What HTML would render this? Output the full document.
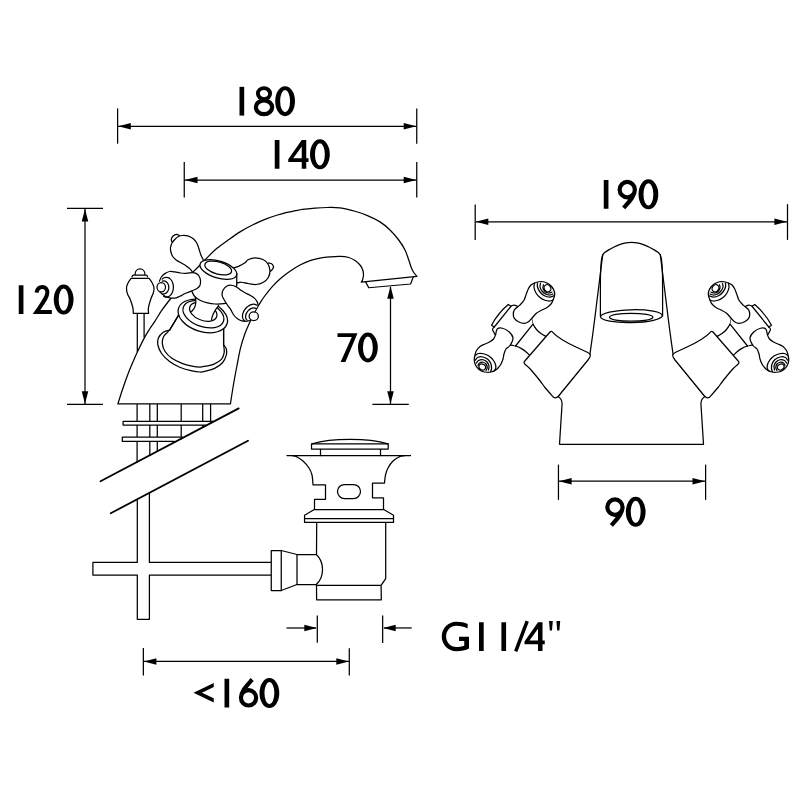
<!DOCTYPE html>
<html><head><meta charset="utf-8"><title>Tap dimensions</title>
<style>
html,body{margin:0;padding:0;background:#fff;}
body{width:800px;height:800px;overflow:hidden;font-family:"Liberation Sans",sans-serif;}
svg{display:block}
.l{fill:none;stroke:#000;stroke-width:1.25;stroke-linecap:round;stroke-linejoin:round}
.w{fill:#fff;stroke:#000;stroke-width:1.25;stroke-linecap:round;stroke-linejoin:round}
.d{fill:none;stroke:#000;stroke-width:1.25;stroke-linecap:butt}
.a{fill:#000;stroke:none}
.g{fill:none;stroke:#000;stroke-width:4.2;stroke-linecap:butt;stroke-linejoin:miter;stroke-miterlimit:10}
.gf{fill:#000;stroke:none;fill-rule:evenodd}
</style></head><body>
<svg width="800" height="800" viewBox="0 0 800 800">
<rect width="800" height="800" fill="#fff"/>
<g id="dims">
<path class="d" d="M117.6 108.4L117.6 143.65"/>
<path class="d" d="M416.75 108.4L416.75 143.65"/>
<path class="d" d="M118 126.3L416.5 126.3"/>
<path class="a" d="M118.2 126.3L130.8 123.05L130.8 129.55Z"/>
<path class="a" d="M416.3 126.3L403.7 129.55L403.7 123.05Z"/>
<path class="d" d="M184.25 162L184.25 197.6"/>
<path class="d" d="M416.75 162L416.75 197.6"/>
<path class="d" d="M184.5 180L416.5 180"/>
<path class="a" d="M184.9 180L197.5 176.75L197.5 183.25Z"/>
<path class="a" d="M416.3 180L403.7 183.25L403.7 176.75Z"/>
<path class="d" d="M67 208.35L103 208.35"/>
<path class="d" d="M67 404.3L103 404.3"/>
<path class="d" d="M85 208.5L85 404"/>
<path class="a" d="M85 208.8L88.25 221.4L81.75 221.4Z"/>
<path class="a" d="M85 403.9L81.75 391.3L88.25 391.3Z"/>
<path class="d" d="M372.4 404.35L408.75 404.35"/>
<path class="d" d="M390.5 287L390.5 404"/>
<path class="a" d="M390.5 286.1L393.75 298.7L387.25 298.7Z"/>
<path class="a" d="M390.5 403.9L387.25 391.3L393.75 391.3Z"/>
<path class="d" d="M475.2 204.5L475.2 240"/>
<path class="d" d="M787.5 204.2L787.5 239.9"/>
<path class="d" d="M475.5 221.8L787.2 221.8"/>
<path class="a" d="M475.7 221.8L488.3 218.55L488.3 225.05Z"/>
<path class="a" d="M787 221.8L774.4 225.05L774.4 218.55Z"/>
<path class="d" d="M558.45 464.6L558.45 499.9"/>
<path class="d" d="M705.6 464.6L705.6 499.9"/>
<path class="d" d="M558.8 481.2L705.3 481.2"/>
<path class="a" d="M559 481.2L571.6 477.95L571.6 484.45Z"/>
<path class="a" d="M705.1 481.2L692.5 484.45L692.5 477.95Z"/>
<path class="d" d="M143.35 648.1L143.35 675.5"/>
<path class="d" d="M349.3 648.2L349.3 675.5"/>
<path class="d" d="M143.6 661.45L349 661.45"/>
<path class="a" d="M143.8 661.45L156.4 658.2L156.4 664.7Z"/>
<path class="a" d="M348.9 661.45L336.3 664.7L336.3 658.2Z"/>
<path class="d" d="M317.3 615.5L317.3 642.8"/>
<path class="d" d="M382.65 615.5L382.65 642.9"/>
<path class="d" d="M286.5 628L316 628"/>
<path class="a" d="M316.9 628L304.3 631.25L304.3 624.75Z"/>
<path class="d" d="M384 627.95L411.75 627.95"/>
<path class="a" d="M383.1 627.95L395.7 624.7L395.7 631.2Z"/>
</g>
<g id="side">
<path class="l" d="M137.1 404L137.1 462M149.8 404L149.8 455.4M157.3 404L157.3 451.4M181.2 404L181.2 438.9M202.7 404L202.7 427.6M210.6 404L210.6 423.4"/>
<path d="M213.3 421.25L123.1 421.25L123.1 425.1L206 425.1Z" fill="#fff" stroke="none"/>
<path class="l" d="M213.3 421.25L123.1 421.25L123.1 425.1L206 425.1"/>
<path d="M182.6 437L122.3 437L122.3 441.4L174.2 441.4Z" fill="#fff" stroke="none"/>
<path class="l" d="M182.6 437L122.3 437L122.3 441.4L174.2 441.4"/>
<path class="l" d="M100.5 481.25L238.7 408.4" style="stroke-width:1.8"/>
<path class="l" d="M110.75 513.25L248 440.75" style="stroke-width:1.8"/>
<path class="l" d="M137.3 499.4L137.3 562.4L92.9 562.4L92.9 575L137.3 575L137.3 619.25L149.4 619.25L149.4 575L271.25 575M271.25 562.4L149.4 562.4L149.4 493"/>
<path class="w" d="M117.9 403.9C118.65 401.54 120.72 394.73 122.4 389.75C124.08 384.77 126.13 378.88 128 374C129.87 369.12 132 364.25 133.6 360.5C135.2 356.75 135.72 355.43 137.6 351.5C139.48 347.57 142.83 340.73 144.9 336.9C146.97 333.07 148.32 331.13 150 328.5C151.68 325.87 153.02 324.15 155 321.1C156.98 318.05 159.3 313.93 161.9 310.2C164.5 306.47 167.25 302.95 170.6 298.75C173.95 294.55 178.27 289.38 182 285C185.73 280.62 189.25 276.58 193 272.5C196.75 268.42 200.83 264.25 204.5 260.5C208.17 256.75 211.25 253.25 215 250C218.75 246.75 222.83 244.02 227 241C231.17 237.98 235.75 234.57 240 231.9C244.25 229.23 248.33 227.08 252.5 225C256.67 222.92 260.83 221.07 265 219.4C269.17 217.73 273.33 216.25 277.5 215C281.67 213.75 285.83 212.83 290 211.9C294.17 210.97 298.33 210.03 302.5 209.4C306.67 208.77 310.83 208.42 315 208.1C319.17 207.78 323.33 207.53 327.5 207.5C331.67 207.47 335.42 207.28 340 207.9C344.58 208.53 350.42 209.97 355 211.25C359.58 212.53 363.33 213.82 367.5 215.6C371.67 217.38 376.25 219.5 380 221.9C383.75 224.3 386.88 226.98 390 230C393.12 233.02 396.25 236.67 398.75 240C401.25 243.33 403.33 246.67 405 250C406.67 253.33 407.71 257.08 408.75 260C409.79 262.92 410.42 265.42 411.25 267.5C412.08 269.58 412.81 271.02 413.75 272.5C414.69 273.98 416.38 275.75 416.9 276.4L361.25 282.1C361.46 281.75 362.12 281.18 362.5 280C362.88 278.82 363.46 276.67 363.5 275C363.54 273.33 363.33 271.67 362.75 270C362.17 268.33 361.29 266.57 360 265C358.71 263.43 356.88 261.85 355 260.6C353.12 259.35 351.25 258.2 348.75 257.5C346.25 256.8 343.12 256.5 340 256.4C336.88 256.3 333.33 256.62 330 256.9C326.67 257.18 323.33 257.48 320 258.1C316.67 258.72 313.33 259.45 310 260.6C306.67 261.75 303.33 263.23 300 265C296.67 266.77 293.2 269 290 271.2C286.8 273.4 283.75 275.63 280.8 278.2C277.85 280.77 275.1 283.47 272.3 286.6C269.5 289.73 266.05 294.25 264 297C261.95 299.75 260.98 301.56 260 303.1C259.02 304.64 259.1 304.52 258.1 306.25C257.1 307.98 255.34 310.93 254 313.5C252.66 316.07 251.56 318.37 250.06 321.7C248.56 325.03 246.59 329.1 245 333.5C243.41 337.9 241.82 342.85 240.5 348.1C239.18 353.35 238.22 359.18 237.1 365C235.97 370.82 234.87 376.52 233.75 383C232.63 389.48 230.96 400.42 230.4 403.9Z"/>
<path class="l" d="M413.1 277.4L410.6 284L368.75 287.75L365.6 281.9"/>
<path class="l" d="M137.3 313.25L137.3 351.5M144.1 313.25L144.1 337"/>
<path class="w" d="M131.25 278.25C130.71 279.04 128.79 281.38 128 283C127.21 284.62 126.58 286.17 126.5 288C126.42 289.83 126.9 292.17 127.5 294C128.1 295.83 129.2 296.67 130.1 299C131 301.33 132.38 305.62 132.9 308C133.43 310.38 133.19 312.38 133.25 313.25L148.6 313.25C148.57 312.38 148 310.46 148.4 308C148.8 305.54 150.18 301 151 298.5C151.82 296 152.8 294.75 153.3 293C153.8 291.25 154.18 289.67 154 288C153.82 286.33 153.08 284.62 152.25 283C151.42 281.38 149.54 279.04 149 278.25Z"/>
<path class="l" d="M135 274.9C135 267 145 267 145 274.9M132 276.9C132.3 275.6 132.8 275.1 133.6 275.1L146 275.1C146.8 275.1 147.3 275.6 147.6 276.9"/>
</g>
<g id="waste">
<path class="w" d="M271.25 550.5L281.25 550.5L281.25 590.5L271.25 590.5Z"/>
<path class="l" d="M281.25 550.5L297 554.5L297 584.5L281.25 590.5"/>
<path class="l" d="M297 554.5L316.25 554.5C324.6 562 324.6 577 316.25 584.5L297 584.5"/>
<path class="l" d="M316.7 522.6L316.5 554.5M316.5 584.5L316.6 599.8L381.3 599.8L381.1 585.3L385.7 578.6L385.7 522.6M316.5 585.3L381.1 585.3"/>
<path class="w" d="M314.3 509.5L304.55 515.25L304.55 522.45L393.5 522.45L393.5 515.25L383.75 509.5ZM304.55 518.5L393.5 518.5"/>
<path class="l" d="M287 455.5L410.5 455.5M287 455.5C287.75 455.53 290 455.53 291.5 455.7C293 455.87 294.08 455.62 296 456.5C297.92 457.38 300.83 459.08 303 461C305.17 462.92 307.5 465.67 309 468C310.5 470.33 311.33 472.2 312 475C312.67 477.8 312.83 483.17 313 484.8L325.5 484.8L325.5 499.3L314.5 499.3L314.5 509.4M410.5 455.5C409.67 455.53 407.25 455.53 405.5 455.7C403.75 455.87 402.08 455.62 400 456.5C397.92 457.38 395 459.08 393 461C391 462.92 389.25 465.67 388 468C386.75 470.33 386.08 472.5 385.5 475C384.92 477.5 384.67 481.67 384.5 483L372.5 483L372.5 497.8L383.5 497.8L383.5 509.4"/>
<rect class="l" x="337.5" y="484.5" width="23" height="14" rx="7" ry="7"/>
<path class="l" d="M311.5 443.8L311.5 449.1L388.2 449.1L388.2 443.8ZM320.5 449.1L320.5 455.5M380.5 449.1L380.5 455.5"/>
<path class="l" d="M312 443.8C332 438 368 438 388 443.8"/>
</g>
<g id="handle">
<path class="w" d="M169.6 330.1C168.48 330.48 164.77 331.08 162.9 332.4C161.03 333.72 159.25 335.94 158.4 338C157.55 340.06 157.24 342.12 157.8 344.75C158.36 347.38 159.78 350.94 161.75 353.75C163.72 356.56 166.6 359.35 169.6 361.6C172.6 363.85 176.18 365.75 179.75 367.25C183.32 368.75 187.62 369.81 191 370.6C194.38 371.39 197.57 371.9 200 372C202.43 372.1 203.17 371.8 205.6 371.2C208.03 370.6 211.78 369.81 214.6 368.4C217.42 366.99 220.53 365 222.5 362.75C224.47 360.5 225.75 357.15 226.4 354.9C227.05 352.65 226.77 350.85 226.4 349.25C226.03 347.65 224.57 345.96 224.2 345.3L223.6 345.3L223.6 328.75L178.3 315.6Z"/>
<path class="l" d="M168.6 330.6C168.4 330.9 168.27 331.35 167.4 332.4C166.53 333.45 164.25 335.03 163.4 336.9C162.55 338.77 162.02 341.17 162.3 343.6C162.58 346.03 163.5 349.06 165.1 351.5C166.7 353.94 169.08 356.28 171.9 358.25C174.72 360.22 178.63 361.99 182 363.3C185.37 364.61 189.1 365.48 192.1 366.1C195.1 366.72 197.75 367 200 367C202.25 367 203.35 366.53 205.6 366.1C207.85 365.67 210.87 365.52 213.5 364.4C216.13 363.28 219.62 361.37 221.4 359.4C223.18 357.43 223.8 354.83 224.2 352.6C224.6 350.37 223.87 347.1 223.8 346"/>
<path class="l" d="M178.3 315.6L169.6 330.1M223.6 328.75L223.6 345.3"/>
<ellipse class="w" cx="202.8" cy="316" rx="25.5" ry="15.6" transform="rotate(17.7 202.8 316)"/>
<ellipse class="l" cx="203.4" cy="314.2" rx="21.3" ry="12.4" transform="rotate(19.9 203.4 314.2)"/>
<ellipse class="w" cx="203.25" cy="311.9" rx="14.3" ry="8.4" transform="rotate(21 203.25 311.9)"/>
<path d="M195.4 297L195.8 302.5L194.5 307.75L191.4 311.7L196 317L203 319.8L211.4 319.8L212 317.4L214.6 311.25L218.6 305.6L222 303Z" fill="#fff" stroke="none"/>
<path class="l" d="M195.4 297.25C195.47 298.12 195.95 300.75 195.8 302.5C195.65 304.25 195.23 306.22 194.5 307.75C193.77 309.28 191.92 311.04 191.4 311.7"/>
<path class="l" d="M218.6 305.6C217.93 306.54 215.7 309.28 214.6 311.25C213.5 313.22 212.5 315.94 212 317.4C211.5 318.86 211.67 319.57 211.6 320"/>
<path class="w" d="M268.3 263.2C272 262.5 274.5 266 273 268.5C272 270.5 271 271 270 271.3"/>
<path class="w" d="M233.5 267.8C234.42 267.52 237.08 266.94 239 266.1C240.92 265.26 243.5 263.8 245 262.75C246.5 261.7 246.33 260.62 248 259.8C249.67 258.98 252.5 257.85 255 257.8C257.5 257.75 260.83 258.47 263 259.5C265.17 260.53 266.83 262.08 268 264C269.17 265.92 270 268.67 270 271C270 273.33 269.17 276.08 268 278C266.83 279.92 265 281.42 263 282.5C261 283.58 258.5 284.33 256 284.5C253.5 284.67 250.46 283.88 248 283.5C245.54 283.12 243.07 282.33 241.25 282.25C239.43 282.17 237.79 282.88 237.1 283L233 275Z"/>
<path class="w" d="M179.9 235.9C179.33 235.63 177.67 234.25 176.5 234.3C175.33 234.35 173.77 235.38 172.9 236.2C172.03 237.02 171.45 238.3 171.3 239.25C171.15 240.2 171.88 241.46 172 241.9"/>
<path class="w" d="M203.5 260.25C203.07 259.38 201.65 256.88 200.9 255C200.15 253.12 199.69 251 199 249C198.31 247 197.75 244.75 196.75 243C195.75 241.25 194.5 239.68 193 238.5C191.5 237.32 189.5 236.4 187.75 235.9C186 235.4 184 235.44 182.5 235.5C181 235.56 180 235.62 178.75 236.25C177.5 236.88 176.12 238.12 175 239.25C173.88 240.38 172.75 241.62 172 243C171.25 244.38 170.68 246 170.5 247.5C170.32 249 170.53 250.5 170.9 252C171.28 253.5 171.82 255.12 172.75 256.5C173.68 257.88 175 259.12 176.5 260.25C178 261.38 180.12 262.31 181.75 263.25C183.38 264.19 184.88 264.96 186.25 265.9C187.62 266.84 188.94 267.84 190 268.9C191.06 269.96 192.17 271.69 192.6 272.25"/>
<path class="w" d="M203.5 261.8L192.5 272.5L192.1 292C192.54 292.75 193.43 295.12 194.75 296.5C196.07 297.88 197.88 299.18 200 300.25C202.12 301.32 205 302.27 207.5 302.9C210 303.52 212.25 303.88 215 304C217.75 304.12 221.5 303.93 224 303.6C226.5 303.27 229 302.27 230 302L236.75 285.25L236.75 273.25Z"/>
<ellipse class="w" cx="218.4" cy="269.5" rx="19.1" ry="8.5" transform="rotate(17.2 218.4 269.5)"/>
<ellipse class="l" cx="218.2" cy="268" rx="13.8" ry="6.1" transform="rotate(15.8 218.2 268)"/>
<path class="w" d="M159.4 281.25C159.75 280.5 160.53 278.06 161.5 276.75C162.47 275.44 163.88 274.27 165.25 273.4C166.62 272.52 168.12 271.75 169.75 271.5C171.38 271.25 173.25 271.65 175 271.9C176.75 272.15 178.38 272.75 180.25 273C182.12 273.25 184.19 273.47 186.25 273.4C188.31 273.33 190.97 272.6 192.6 272.6C194.22 272.6 194.93 272.83 196 273.4C197.07 273.97 198.25 274.82 199 276C199.75 277.18 200.33 278.96 200.5 280.5C200.67 282.04 200.58 283.9 200 285.25C199.42 286.6 198.38 287.66 197 288.6C195.62 289.54 193.75 290.08 191.75 290.9C189.75 291.72 186.75 292.72 185 293.5C183.25 294.28 182.71 294.88 181.25 295.6C179.79 296.32 177.92 297.38 176.25 297.8C174.58 298.22 172.92 298.25 171.25 298.1C169.58 297.95 167.71 297.52 166.25 296.9C164.79 296.28 163.54 295.23 162.5 294.4C161.46 293.57 160.42 292.32 160 291.9"/>
<path class="l" d="M162.23 279.09C162.54 278.87 163.44 278.09 164.1 277.79C164.75 277.49 165.47 277.32 166.16 277.3C166.85 277.28 167.57 277.41 168.23 277.67C168.89 277.93 169.56 278.35 170.14 278.87C170.72 279.39 171.26 280.06 171.71 280.79C172.16 281.52 172.54 282.38 172.81 283.26C173.09 284.15 173.28 285.12 173.35 286.08C173.43 287.03 173.41 288.05 173.28 288.99C173.16 289.94 172.92 290.9 172.61 291.75C172.29 292.6 171.86 293.42 171.38 294.11C170.9 294.8 170.32 295.41 169.72 295.88C169.11 296.34 168.43 296.69 167.76 296.89C167.08 297.09 166.36 297.15 165.67 297.06C164.99 296.98 163.98 296.49 163.64 296.38"/>
<path class="l" d="M162.25 281.12C162.47 281.08 163.13 280.9 163.57 280.9C164.01 280.9 164.46 280.97 164.88 281.1C165.31 281.24 165.73 281.45 166.12 281.71C166.5 281.98 166.87 282.31 167.18 282.69C167.5 283.07 167.79 283.51 168.02 283.98C168.25 284.44 168.44 284.96 168.57 285.48C168.7 286.01 168.78 286.57 168.8 287.12C168.81 287.66 168.78 288.23 168.68 288.77C168.59 289.3 168.44 289.84 168.24 290.33C168.04 290.82 167.79 291.29 167.5 291.7C167.21 292.11 166.87 292.49 166.5 292.79C166.14 293.1 165.73 293.35 165.32 293.54C164.9 293.72 164.46 293.83 164.02 293.88C163.58 293.92 162.92 293.81 162.7 293.8"/>
<ellipse class="w" cx="161.25" cy="287.2" rx="4.25" ry="4.7"/>
<path class="w" d="M258.1 305C257.95 304.48 257.82 303.05 257.2 301.9C256.58 300.75 255.6 299.2 254.4 298.1C253.2 297 251.57 296.19 250 295.3C248.43 294.41 246.46 293.55 245 292.75C243.54 291.95 242.75 291.5 241.25 290.5C239.75 289.5 237.62 287.62 236 286.75C234.38 285.88 233 285.38 231.5 285.25C230 285.12 228.38 285.25 227 286C225.62 286.75 224.07 288.25 223.25 289.75C222.43 291.25 221.97 293.38 222.1 295C222.22 296.62 223.06 297.75 224 299.5C224.94 301.25 226.65 303.85 227.75 305.5C228.85 307.15 229.6 307.82 230.6 309.4C231.6 310.98 232.6 313.44 233.75 315C234.9 316.56 236.14 317.77 237.5 318.75C238.86 319.73 240.44 320.48 241.9 320.9C243.36 321.32 245 321.3 246.25 321.25C247.5 321.2 248.88 320.71 249.4 320.6"/>
<path class="l" d="M256.96 305.32C256.74 305.19 256.13 304.73 255.64 304.55C255.15 304.36 254.61 304.25 254.05 304.22C253.49 304.19 252.88 304.23 252.27 304.35C251.67 304.47 251.03 304.67 250.41 304.94C249.79 305.2 249.16 305.55 248.56 305.95C247.96 306.34 247.36 306.81 246.82 307.32C246.27 307.83 245.74 308.4 245.27 308.99C244.8 309.58 244.37 310.23 244.01 310.87C243.65 311.51 243.33 312.19 243.1 312.86C242.86 313.52 242.68 314.2 242.58 314.84C242.48 315.49 242.45 316.13 242.49 316.73C242.53 317.32 242.65 317.9 242.83 318.41C243.01 318.92 243.27 319.4 243.58 319.8C243.89 320.2 244.51 320.65 244.7 320.82"/>
<path class="l" d="M255.96 308.42C255.78 308.36 255.26 308.11 254.88 308.02C254.5 307.94 254.08 307.91 253.66 307.92C253.24 307.94 252.8 308.01 252.36 308.12C251.92 308.24 251.47 308.41 251.03 308.62C250.6 308.83 250.16 309.09 249.74 309.38C249.33 309.67 248.92 310.01 248.54 310.38C248.17 310.74 247.81 311.14 247.49 311.56C247.18 311.98 246.89 312.43 246.64 312.88C246.4 313.33 246.19 313.81 246.03 314.28C245.87 314.74 245.75 315.22 245.68 315.68C245.61 316.14 245.58 316.6 245.6 317.03C245.63 317.46 245.7 317.88 245.82 318.27C245.93 318.65 246.1 319.01 246.3 319.33C246.51 319.64 246.92 320.03 247.04 320.17"/>
<ellipse class="w" cx="253.75" cy="316.25" rx="4.6" ry="4.3"/>
</g>
<g id="front">
<path class="w" d="M602.8 254.6C602.7 255.29 602.53 256.18 602.2 258.75C601.87 261.32 601.29 266.04 600.8 270C600.31 273.96 600 276.46 599.25 282.5C598.5 288.54 597.29 298.33 596.3 306.25C595.31 314.17 594.35 322.08 593.3 330C592.25 337.92 590.55 349.79 590 353.75L588.4 359.4L558 396.5C561.5 398.5 562.3 402 562 405L559.5 444.25L703.5 444.25L701 405C700.7 402 701.5 398.5 705 396.5L674.6 359.4L673 353.75C672.45 349.79 670.75 337.92 669.7 330C668.65 322.08 667.69 314.17 666.7 306.25C665.71 298.33 664.5 288.54 663.75 282.5C663 276.46 662.69 273.96 662.2 270C661.71 266.04 661.13 261.32 660.8 258.75C660.47 256.18 660.3 255.29 660.2 254.6C659.83 254.22 658.99 253.09 658 252.3C657.01 251.51 655.67 250.7 654.25 249.85C652.83 249 651.08 247.99 649.5 247.2C647.92 246.41 646.58 245.77 644.75 245.1C642.92 244.43 640.71 243.65 638.5 243.2C636.29 242.75 633.83 242.4 631.5 242.4C629.17 242.4 626.71 242.75 624.5 243.2C622.29 243.65 620.08 244.43 618.25 245.1C616.42 245.77 615.08 246.41 613.5 247.2C611.92 247.99 610.17 249 608.75 249.85C607.33 250.7 605.99 251.51 605 252.3C604.01 253.09 603.17 254.22 602.8 254.6Z"/>
<path class="l" d="M602.8 254.6C602.6 255.33 601.9 257.32 601.6 259C601.3 260.68 601.18 262.03 601 264.7C600.82 267.37 600.6 270.78 600.5 275C600.4 279.22 600.42 283.17 600.4 290C600.38 296.83 600.4 311.67 600.4 316M660.2 254.6C660.4 255.33 661.1 257.32 661.4 259C661.7 260.68 661.82 262.03 662 264.7C662.18 267.37 662.4 270.78 662.5 275C662.6 279.22 662.58 283.17 662.6 290C662.62 296.83 662.6 311.67 662.6 316"/>
<ellipse class="l" cx="631.4" cy="316.2" rx="30.9" ry="6.45" transform="rotate(-1.2 631.4 316.2)"/>
<ellipse class="l" cx="631.2" cy="317.25" rx="21.7" ry="3.95"/>
<g><path d="M531.6 318.6C531.79 319.42 531.93 321.68 532.75 323.5C533.57 325.32 535.12 327.82 536.5 329.5C537.88 331.18 539.43 332.45 541 333.6C542.57 334.75 545.08 335.93 545.9 336.4L530.1 355.75C529.54 355.19 528.18 353.59 526.75 352.4C525.32 351.21 523.38 349.67 521.5 348.6C519.62 347.53 517.5 346.58 515.5 346C513.5 345.42 510.5 345.25 509.5 345.1Z" fill="#fff" stroke="none"/>
<path class="l" d="M531.6 318.6C531.79 319.42 531.93 321.68 532.75 323.5C533.57 325.32 535.12 327.82 536.5 329.5C537.88 331.18 539.43 332.45 541 333.6C542.57 334.75 545.08 335.93 545.9 336.4M530.1 355.75C529.54 355.19 528.18 353.59 526.75 352.4C525.32 351.21 523.38 349.67 521.5 348.6C519.62 347.53 517.5 346.58 515.5 346C513.5 345.42 510.5 345.25 509.5 345.1"/>
<path class="w" d="M552 331.6C556 336 563 341 576 347L587.3 352.2C590 353.5 590.9 355 589.9 357L588.4 359.4L558.6 395.8C556.8 398 555 398.3 553.5 397.3C552.08 395.67 547.25 390.26 545 387.5C542.75 384.74 542.5 383.88 540 380.75C537.5 377.62 532.5 371.51 530 368.75C527.5 365.99 525.83 364.96 525 364.2C523.7 363 523.8 362 524.8 361L550 332C550.7 331.2 551.4 331.1 552 331.6Z"/>
<path d="M518 306.75L511 306.25L494.25 327L492.5 328.5L495 334.5L515.5 346L532.75 324.2L531.6 318.6Z" fill="#fff" stroke="none"/>
<path class="w" d="M491.5 325.25Q497.9 313.25 508.25 304.5L511 306.25L494.25 327Z"/>
<path class="l" d="M511 306.25C511.6 305.4 512.6 305 514 305C515.6 305 517 305.8 518.5 307M494.25 327C492.8 328 492.3 328.8 492.6 330L495 334.5M532.75 324.4L515.5 346"/>
<path class="w" d="M513.3 314.4C513.3 313 513.37 311.4 514.4 309.9C515.43 308.4 517.9 307 519.5 305.4C521.1 303.8 522.88 302.18 524 300.3C525.12 298.42 525.5 296.07 526.25 294.1C527 292.13 527.71 290.02 528.5 288.5C529.29 286.98 530 285.92 531 285C532 284.08 533.17 283.54 534.5 283C535.83 282.46 537.5 281.96 539 281.75C540.5 281.54 542 281.46 543.5 281.75C545 282.04 546.58 282.62 548 283.5C549.42 284.38 550.92 285.58 552 287C553.08 288.42 554.08 290.5 554.5 292C554.92 293.5 554.75 294.67 554.5 296C554.25 297.33 553.58 298.67 553 300C552.42 301.33 552 302.75 551 304C550 305.25 548.5 306.5 547 307.5C545.5 308.5 543.77 309.04 542 310C540.23 310.96 538.08 311.87 536.4 313.25C534.72 314.63 533.22 316.89 531.9 318.3C530.58 319.71 529.82 320.85 528.5 321.7C527.18 322.55 525.68 323.4 524 323.4C522.32 323.4 520 322.55 518.4 321.7C516.8 320.85 515.25 319.52 514.4 318.3C513.55 317.08 513.3 315.8 513.3 314.4Z"/>
<path class="l" d="M534.5 283.25C534.42 283.96 533.75 285.88 534 287.5C534.25 289.12 535 291.33 536 293C537 294.67 538.5 296.29 540 297.5C541.5 298.71 543.33 299.67 545 300.25C546.67 300.83 548.67 301.04 550 301C551.33 300.96 552.5 300.17 553 300"/>
<path class="l" d="M537.5 283C537.5 283.67 537.08 285.5 537.5 287C537.92 288.5 538.83 290.54 540 292C541.17 293.46 542.92 294.92 544.5 295.75C546.08 296.58 547.92 297 549.5 297C551.08 297 553.25 295.96 554 295.75"/>
<path class="l" d="M540.5 283.5C540.42 284.08 539.75 285.75 540 287C540.25 288.25 541 289.79 542 291C543 292.21 544.67 293.58 546 294.25C547.33 294.92 548.83 295.04 550 295C551.17 294.96 552.5 294.17 553 294"/>
<path class="l" d="M543.5 284.75C543.42 285.29 542.75 286.88 543 288C543.25 289.12 544.08 290.67 545 291.5C545.92 292.33 547.33 292.88 548.5 293C549.67 293.12 551.42 292.38 552 292.25"/>
<ellipse class="w" cx="547.5" cy="288.25" rx="3.2" ry="3.8" transform="rotate(-35 547.5 288.25)"/>
<path class="w" d="M497.25 329C498.42 327.88 500.5 327.75 502.5 328.25C504.5 328.75 507.5 330.38 509.25 332C511 333.62 512.88 335.75 513 338C513.12 340.25 511.17 343.67 510 345.5C508.83 347.33 507 347.58 506 349C505 350.42 504.5 352.33 504 354C503.5 355.67 503.5 357.33 503 359C502.5 360.67 501.83 362.5 501 364C500.17 365.5 499 366.92 498 368C497 369.08 496.17 369.83 495 370.5C493.83 371.17 492.33 371.71 491 372C489.67 372.29 488.42 372.33 487 372.25C485.58 372.17 483.92 372.04 482.5 371.5C481.08 370.96 479.67 370.08 478.5 369C477.33 367.92 476.21 366.5 475.5 365C474.79 363.5 474.33 361.67 474.25 360C474.17 358.33 474.62 356.58 475 355C475.38 353.42 475.67 351.92 476.5 350.5C477.33 349.08 478.58 347.58 480 346.5C481.42 345.42 483.42 344.75 485 344C486.58 343.25 488.08 342.83 489.5 342C490.92 341.17 492.5 340.17 493.5 339C494.5 337.83 494.88 336.67 495.5 335C496.12 333.33 496.08 330.12 497.25 329Z"/>
<path class="l" d="M475.25 355.5C475.79 355.17 477.12 353.79 478.5 353.5C479.88 353.21 481.75 353.33 483.5 353.75C485.25 354.17 487.33 354.88 489 356C490.67 357.12 492.38 358.92 493.5 360.5C494.62 362.08 495.42 364.08 495.75 365.5C496.08 366.92 495.79 368.08 495.5 369C495.21 369.92 494.25 370.67 494 371"/>
<path class="l" d="M475.5 360C475.92 359.54 476.75 357.75 478 357.25C479.25 356.75 481.33 356.62 483 357C484.67 357.38 486.67 358.33 488 359.5C489.33 360.67 490.42 362.42 491 364C491.58 365.58 491.58 367.75 491.5 369C491.42 370.25 490.67 371.08 490.5 371.5"/>
<path class="l" d="M476.5 363C476.83 362.58 477.42 361.04 478.5 360.5C479.58 359.96 481.58 359.5 483 359.75C484.42 360 486 360.96 487 362C488 363.04 488.75 364.67 489 366C489.25 367.33 488.58 369.33 488.5 370"/>
<path class="l" d="M478 365.5C478.25 365.08 478.67 363.54 479.5 363C480.33 362.46 481.92 362.08 483 362.25C484.08 362.42 485.29 363.12 486 364C486.71 364.88 487.25 366.42 487.25 367.5C487.25 368.58 486.21 370 486 370.5"/>
<ellipse class="w" cx="482.25" cy="367" rx="3.5" ry="2.8" transform="rotate(30 482.25 367)"/></g>
<g transform="translate(1263 0) scale(-1 1)"><path d="M531.6 318.6C531.79 319.42 531.93 321.68 532.75 323.5C533.57 325.32 535.12 327.82 536.5 329.5C537.88 331.18 539.43 332.45 541 333.6C542.57 334.75 545.08 335.93 545.9 336.4L530.1 355.75C529.54 355.19 528.18 353.59 526.75 352.4C525.32 351.21 523.38 349.67 521.5 348.6C519.62 347.53 517.5 346.58 515.5 346C513.5 345.42 510.5 345.25 509.5 345.1Z" fill="#fff" stroke="none"/>
<path class="l" d="M531.6 318.6C531.79 319.42 531.93 321.68 532.75 323.5C533.57 325.32 535.12 327.82 536.5 329.5C537.88 331.18 539.43 332.45 541 333.6C542.57 334.75 545.08 335.93 545.9 336.4M530.1 355.75C529.54 355.19 528.18 353.59 526.75 352.4C525.32 351.21 523.38 349.67 521.5 348.6C519.62 347.53 517.5 346.58 515.5 346C513.5 345.42 510.5 345.25 509.5 345.1"/>
<path class="w" d="M552 331.6C556 336 563 341 576 347L587.3 352.2C590 353.5 590.9 355 589.9 357L588.4 359.4L558.6 395.8C556.8 398 555 398.3 553.5 397.3C552.08 395.67 547.25 390.26 545 387.5C542.75 384.74 542.5 383.88 540 380.75C537.5 377.62 532.5 371.51 530 368.75C527.5 365.99 525.83 364.96 525 364.2C523.7 363 523.8 362 524.8 361L550 332C550.7 331.2 551.4 331.1 552 331.6Z"/>
<path d="M518 306.75L511 306.25L494.25 327L492.5 328.5L495 334.5L515.5 346L532.75 324.2L531.6 318.6Z" fill="#fff" stroke="none"/>
<path class="w" d="M491.5 325.25Q497.9 313.25 508.25 304.5L511 306.25L494.25 327Z"/>
<path class="l" d="M511 306.25C511.6 305.4 512.6 305 514 305C515.6 305 517 305.8 518.5 307M494.25 327C492.8 328 492.3 328.8 492.6 330L495 334.5M532.75 324.4L515.5 346"/>
<path class="w" d="M513.3 314.4C513.3 313 513.37 311.4 514.4 309.9C515.43 308.4 517.9 307 519.5 305.4C521.1 303.8 522.88 302.18 524 300.3C525.12 298.42 525.5 296.07 526.25 294.1C527 292.13 527.71 290.02 528.5 288.5C529.29 286.98 530 285.92 531 285C532 284.08 533.17 283.54 534.5 283C535.83 282.46 537.5 281.96 539 281.75C540.5 281.54 542 281.46 543.5 281.75C545 282.04 546.58 282.62 548 283.5C549.42 284.38 550.92 285.58 552 287C553.08 288.42 554.08 290.5 554.5 292C554.92 293.5 554.75 294.67 554.5 296C554.25 297.33 553.58 298.67 553 300C552.42 301.33 552 302.75 551 304C550 305.25 548.5 306.5 547 307.5C545.5 308.5 543.77 309.04 542 310C540.23 310.96 538.08 311.87 536.4 313.25C534.72 314.63 533.22 316.89 531.9 318.3C530.58 319.71 529.82 320.85 528.5 321.7C527.18 322.55 525.68 323.4 524 323.4C522.32 323.4 520 322.55 518.4 321.7C516.8 320.85 515.25 319.52 514.4 318.3C513.55 317.08 513.3 315.8 513.3 314.4Z"/>
<path class="l" d="M534.5 283.25C534.42 283.96 533.75 285.88 534 287.5C534.25 289.12 535 291.33 536 293C537 294.67 538.5 296.29 540 297.5C541.5 298.71 543.33 299.67 545 300.25C546.67 300.83 548.67 301.04 550 301C551.33 300.96 552.5 300.17 553 300"/>
<path class="l" d="M537.5 283C537.5 283.67 537.08 285.5 537.5 287C537.92 288.5 538.83 290.54 540 292C541.17 293.46 542.92 294.92 544.5 295.75C546.08 296.58 547.92 297 549.5 297C551.08 297 553.25 295.96 554 295.75"/>
<path class="l" d="M540.5 283.5C540.42 284.08 539.75 285.75 540 287C540.25 288.25 541 289.79 542 291C543 292.21 544.67 293.58 546 294.25C547.33 294.92 548.83 295.04 550 295C551.17 294.96 552.5 294.17 553 294"/>
<path class="l" d="M543.5 284.75C543.42 285.29 542.75 286.88 543 288C543.25 289.12 544.08 290.67 545 291.5C545.92 292.33 547.33 292.88 548.5 293C549.67 293.12 551.42 292.38 552 292.25"/>
<ellipse class="w" cx="547.5" cy="288.25" rx="3.2" ry="3.8" transform="rotate(-35 547.5 288.25)"/>
<path class="w" d="M497.25 329C498.42 327.88 500.5 327.75 502.5 328.25C504.5 328.75 507.5 330.38 509.25 332C511 333.62 512.88 335.75 513 338C513.12 340.25 511.17 343.67 510 345.5C508.83 347.33 507 347.58 506 349C505 350.42 504.5 352.33 504 354C503.5 355.67 503.5 357.33 503 359C502.5 360.67 501.83 362.5 501 364C500.17 365.5 499 366.92 498 368C497 369.08 496.17 369.83 495 370.5C493.83 371.17 492.33 371.71 491 372C489.67 372.29 488.42 372.33 487 372.25C485.58 372.17 483.92 372.04 482.5 371.5C481.08 370.96 479.67 370.08 478.5 369C477.33 367.92 476.21 366.5 475.5 365C474.79 363.5 474.33 361.67 474.25 360C474.17 358.33 474.62 356.58 475 355C475.38 353.42 475.67 351.92 476.5 350.5C477.33 349.08 478.58 347.58 480 346.5C481.42 345.42 483.42 344.75 485 344C486.58 343.25 488.08 342.83 489.5 342C490.92 341.17 492.5 340.17 493.5 339C494.5 337.83 494.88 336.67 495.5 335C496.12 333.33 496.08 330.12 497.25 329Z"/>
<path class="l" d="M475.25 355.5C475.79 355.17 477.12 353.79 478.5 353.5C479.88 353.21 481.75 353.33 483.5 353.75C485.25 354.17 487.33 354.88 489 356C490.67 357.12 492.38 358.92 493.5 360.5C494.62 362.08 495.42 364.08 495.75 365.5C496.08 366.92 495.79 368.08 495.5 369C495.21 369.92 494.25 370.67 494 371"/>
<path class="l" d="M475.5 360C475.92 359.54 476.75 357.75 478 357.25C479.25 356.75 481.33 356.62 483 357C484.67 357.38 486.67 358.33 488 359.5C489.33 360.67 490.42 362.42 491 364C491.58 365.58 491.58 367.75 491.5 369C491.42 370.25 490.67 371.08 490.5 371.5"/>
<path class="l" d="M476.5 363C476.83 362.58 477.42 361.04 478.5 360.5C479.58 359.96 481.58 359.5 483 359.75C484.42 360 486 360.96 487 362C488 363.04 488.75 364.67 489 366C489.25 367.33 488.58 369.33 488.5 370"/>
<path class="l" d="M478 365.5C478.25 365.08 478.67 363.54 479.5 363C480.33 362.46 481.92 362.08 483 362.25C484.08 362.42 485.29 363.12 486 364C486.71 364.88 487.25 366.42 487.25 367.5C487.25 368.58 486.21 370 486 370.5"/>
<ellipse class="w" cx="482.25" cy="367" rx="3.5" ry="2.8" transform="rotate(30 482.25 367)"/></g>
</g>
<g id="text">
<g transform="translate(239.5 115.6)"><path class="gf" d="M0 0L0 -28.75L4.7 -28.75L4.7 0Z"/></g>
<g transform="translate(253.75 115.6)"><ellipse class="g" cx="10.25" cy="-22" rx="6.1" ry="5.5" style="stroke-width:3.9"/><ellipse class="g" cx="10.25" cy="-8.3" rx="8.15" ry="6.9" style="stroke-width:4.2"/></g>
<g transform="translate(275.2 115.6)"><path class="gf" d="M0 -14.4A9.9 15 0 1 0 19.8 -14.4A9.9 15 0 1 0 0 -14.4ZM4.95 -14.4A4.95 11.1 0 1 0 14.85 -14.4A4.95 11.1 0 1 0 4.95 -14.4Z"/></g>
<g transform="translate(274.75 168.75)"><path class="gf" d="M0 0L0 -28.75L4.7 -28.75L4.7 0Z"/></g>
<g transform="translate(288.25 168.75)"><path class="gf" d="M13.5 -28.75L18 -28.75L18 -10.6L20.25 -10.6L20.25 -6.85L18 -6.85L18 0L13.5 0L13.5 -6.85L0 -6.85L0 -9.5ZM13.5 -22.3L13.5 -10.6L5 -10.6Z"/></g>
<g transform="translate(310 168.75)"><path class="gf" d="M0 -14.4A9.9 15 0 1 0 19.8 -14.4A9.9 15 0 1 0 0 -14.4ZM4.95 -14.4A4.95 11.1 0 1 0 14.85 -14.4A4.95 11.1 0 1 0 4.95 -14.4Z"/></g>
<g transform="translate(18.75 314)"><path class="gf" d="M0 0L0 -28.75L4.7 -28.75L4.7 0Z"/></g>
<g transform="translate(32.75 314)"><path class="g" d="M3.7 -21.3C4.5 -25 7 -27 9.6 -27C12.7 -27 14.6 -24.6 14.6 -21.4C14.6 -17 11 -12.5 3.8 -2L19.1 -2" style="stroke-width:4"/></g>
<g transform="translate(53.75 314)"><path class="gf" d="M0 -14.4A9.9 15 0 1 0 19.8 -14.4A9.9 15 0 1 0 0 -14.4ZM4.95 -14.4A4.95 11.1 0 1 0 14.85 -14.4A4.95 11.1 0 1 0 4.95 -14.4Z"/></g>
<g transform="translate(337.5 361.9)"><path class="gf" d="M0 -28.75L20 -28.75L7.9 0L3.1 0L14.3 -25L0 -25Z"/></g>
<g transform="translate(358 361.9)"><path class="gf" d="M0 -14.4A9.9 15 0 1 0 19.8 -14.4A9.9 15 0 1 0 0 -14.4ZM4.95 -14.4A4.95 11.1 0 1 0 14.85 -14.4A4.95 11.1 0 1 0 4.95 -14.4Z"/></g>
<g transform="translate(603.75 208.75)"><path class="gf" d="M0 0L0 -28.75L4.7 -28.75L4.7 0Z"/></g>
<g transform="translate(617.5 208.75)"><g transform="rotate(180 9.75 -14.4)"><path class="g" d="M13.4 -28C8.3 -22.3 2.15 -16.5 2.15 -9.7A7.6 7.7 0 1 0 17.35 -9.7A7.6 7.7 0 0 0 2.15 -9.7"/></g></g>
<g transform="translate(638.5 208.75)"><path class="gf" d="M0 -14.4A9.9 15 0 1 0 19.8 -14.4A9.9 15 0 1 0 0 -14.4ZM4.95 -14.4A4.95 11.1 0 1 0 14.85 -14.4A4.95 11.1 0 1 0 4.95 -14.4Z"/></g>
<g transform="translate(605.2 526.2)"><g transform="rotate(180 9.75 -14.4)"><path class="g" d="M13.4 -28C8.3 -22.3 2.15 -16.5 2.15 -9.7A7.6 7.7 0 1 0 17.35 -9.7A7.6 7.7 0 0 0 2.15 -9.7"/></g></g>
<g transform="translate(625.8 526.2)"><path class="gf" d="M0 -14.4A9.9 15 0 1 0 19.8 -14.4A9.9 15 0 1 0 0 -14.4ZM4.95 -14.4A4.95 11.1 0 1 0 14.85 -14.4A4.95 11.1 0 1 0 4.95 -14.4Z"/></g>
<g transform="translate(193.5 707.5)"><path class="gf" d="M20.25 -24.6L20.25 -20.5L8.4 -14.85L20.25 -9.2L20.25 -5.1L0 -14.85Z"/></g>
<g transform="translate(224.5 707.5)"><path class="gf" d="M0 0L0 -28.75L4.7 -28.75L4.7 0Z"/></g>
<g transform="translate(238.8 707.5)"><path class="g" d="M13.4 -28C8.3 -22.3 2.15 -16.5 2.15 -9.7A7.6 7.7 0 1 0 17.35 -9.7A7.6 7.7 0 0 0 2.15 -9.7"/></g>
<g transform="translate(259.5 707.5)"><path class="gf" d="M0 -14.4A9.9 15 0 1 0 19.8 -14.4A9.9 15 0 1 0 0 -14.4ZM4.95 -14.4A4.95 11.1 0 1 0 14.85 -14.4A4.95 11.1 0 1 0 4.95 -14.4Z"/></g>
<g transform="translate(441.75 651)"><path class="gf" d="M26 -27C23 -28.6 19 -29.25 14.5 -29.25C6.5 -29.25 0 -22.7 0 -14.5C0 -6.4 6.5 0.25 14.5 0.25C19.5 0.25 24 -0.6 27.25 -2.4L27.25 -14.25L17.25 -14.25L17.25 -10L22.5 -10L22.5 -5.3C20 -4.4 17.5 -4 14.5 -4C8.8 -4 4.35 -8.7 4.35 -14.5C4.35 -20.5 8.8 -25.2 14.5 -25.2C18.6 -25.2 22.5 -24.3 25.75 -22.5Z"/></g>
<g transform="translate(479 651)"><path class="gf" d="M0 0L0 -28.75L4.7 -28.75L4.7 0Z"/></g>
<g transform="translate(501.4 651)"><path class="gf" d="M0 0L0 -28.75L4.7 -28.75L4.7 0Z"/></g>
<g transform="translate(514 651)"><path class="g" d="M1.7 0.3L13.2 -29.8" style="stroke-width:3.5"/></g>
<g transform="translate(524.5 651)"><path class="gf" d="M13.5 -28.75L18 -28.75L18 -10.6L20.25 -10.6L20.25 -6.85L18 -6.85L18 0L13.5 0L13.5 -6.85L0 -6.85L0 -9.5ZM13.5 -22.3L13.5 -10.6L5 -10.6Z"/></g>
<g transform="translate(549 651)"><path class="gf" d="M0 -30L3.8 -30L3 -20.5L0.8 -20.5ZM7.4 -30L11.2 -30L10.4 -20.5L8.2 -20.5Z"/></g>
</g>
</svg>
</body></html>
